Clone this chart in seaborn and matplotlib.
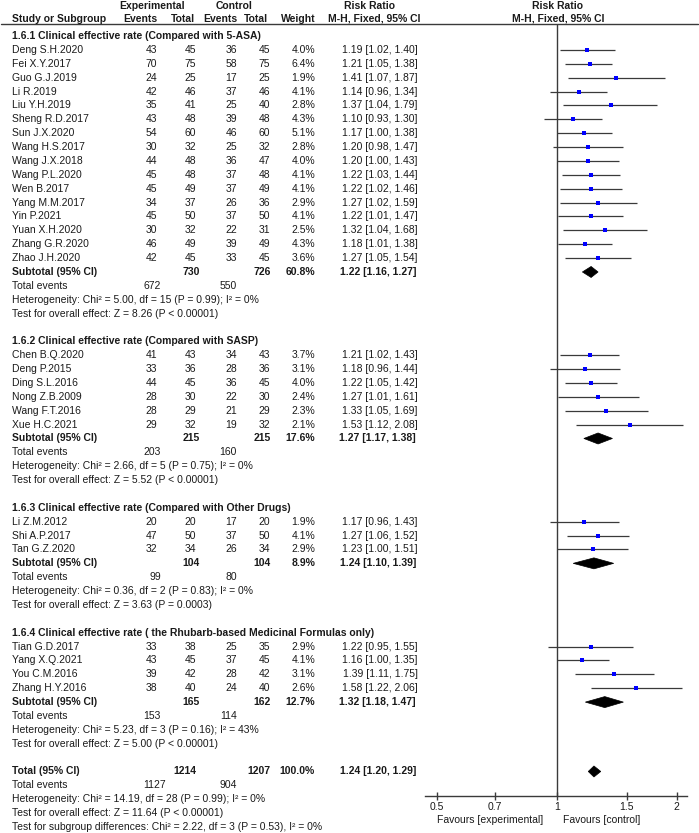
import numpy as np
import pandas as pd
import matplotlib
matplotlib.use("Agg")
import matplotlib.pyplot as plt
from matplotlib.lines import Line2D
from matplotlib.patches import Polygon
import seaborn as sns

# ---------------- data ----------------
group_titles = [
    "1.6.1 Clinical effective rate (Compared with 5-ASA)",
    "1.6.2 Clinical effective rate (Compared with SASP)",
    "1.6.3 Clinical effective rate (Compared with Other Drugs)",
    "1.6.4 Clinical effective rate ( the Rhubarb-based Medicinal Formulas only)",
]
group_sizes = [16, 6, 3, 4]

studies = [
    "Deng S.H.2020", "Fei X.Y.2017", "Guo G.J.2019", "Li R.2019", "Liu Y.H.2019",
    "Sheng R.D.2017", "Sun J.X.2020", "Wang H.S.2017", "Wang J.X.2018", "Wang P.L.2020",
    "Wen B.2017", "Yang M.M.2017", "Yin P.2021", "Yuan X.H.2020", "Zhang G.R.2020",
    "Zhao J.H.2020",
    "Chen B.Q.2020", "Deng P.2015", "Ding S.L.2016", "Nong Z.B.2009", "Wang F.T.2016",
    "Xue H.C.2021",
    "Li Z.M.2012", "Shi A.P.2017", "Tan G.Z.2020",
    "Tian G.D.2017", "Yang X.Q.2021", "You C.M.2016", "Zhang H.Y.2016",
]
exp_events = [43, 70, 24, 42, 35, 43, 54, 30, 44, 45, 45, 34, 45, 30, 46, 42,
              41, 33, 44, 28, 28, 29,
              20, 47, 32,
              33, 43, 39, 38]
exp_total = [45, 75, 25, 46, 41, 48, 60, 32, 48, 48, 49, 37, 50, 32, 49, 45,
             43, 36, 45, 30, 29, 32,
             20, 50, 34,
             38, 45, 42, 40]
ctrl_events = [36, 58, 17, 37, 25, 39, 46, 25, 36, 37, 37, 26, 37, 22, 39, 33,
               34, 28, 36, 22, 21, 19,
               17, 37, 26,
               25, 37, 28, 24]
ctrl_total = [45, 75, 25, 46, 40, 48, 60, 32, 47, 48, 49, 36, 50, 31, 49, 45,
              43, 36, 45, 30, 29, 32,
              20, 50, 34,
              35, 45, 42, 40]
weight_pct = [4.0, 6.4, 1.9, 4.1, 2.8, 4.3, 5.1, 2.8, 4.0, 4.1, 4.1, 2.9, 4.1, 2.5, 4.3, 3.6,
              3.7, 3.1, 4.0, 2.4, 2.3, 2.1,
              1.9, 4.1, 2.9,
              2.9, 4.1, 3.1, 2.6]
rr = [1.19, 1.21, 1.41, 1.14, 1.37, 1.10, 1.17, 1.20, 1.20, 1.22, 1.22, 1.27, 1.22, 1.32, 1.18, 1.27,
      1.21, 1.18, 1.22, 1.27, 1.33, 1.53,
      1.17, 1.27, 1.23,
      1.22, 1.16, 1.39, 1.58]
rr_low = [1.02, 1.05, 1.07, 0.96, 1.04, 0.93, 1.00, 0.98, 1.00, 1.03, 1.02, 1.02, 1.01, 1.04, 1.01, 1.05,
          1.02, 0.96, 1.05, 1.01, 1.05, 1.12,
          0.96, 1.06, 1.00,
          0.95, 1.00, 1.11, 1.22]
rr_high = [1.40, 1.38, 1.87, 1.34, 1.79, 1.30, 1.38, 1.47, 1.43, 1.44, 1.46, 1.59, 1.47, 1.68, 1.38, 1.54,
           1.43, 1.44, 1.42, 1.61, 1.69, 2.08,
           1.43, 1.52, 1.51,
           1.55, 1.35, 1.75, 2.06]

sub_exp_total = [730, 215, 104, 165]
sub_ctrl_total = [726, 215, 104, 162]
sub_weight = [60.8, 17.6, 8.9, 12.7]
sub_rr = [1.22, 1.27, 1.24, 1.32]
sub_low = [1.16, 1.17, 1.10, 1.18]
sub_high = [1.27, 1.38, 1.39, 1.47]
sub_exp_events = [672, 203, 99, 153]
sub_ctrl_events = [550, 160, 80, 114]
sub_het = [
    "Heterogeneity: Chi² = 5.00, df = 15 (P = 0.99); I² = 0%",
    "Heterogeneity: Chi² = 2.66, df = 5 (P = 0.75); I² = 0%",
    "Heterogeneity: Chi² = 0.36, df = 2 (P = 0.83); I² = 0%",
    "Heterogeneity: Chi² = 5.23, df = 3 (P = 0.16); I² = 43%",
]
sub_test = [
    "Test for overall effect: Z = 8.26 (P < 0.00001)",
    "Test for overall effect: Z = 5.52 (P < 0.00001)",
    "Test for overall effect: Z = 3.63 (P = 0.0003)",
    "Test for overall effect: Z = 5.00 (P < 0.00001)",
]

total_exp_total = 1214
total_ctrl_total = 1207
total_weight = 100.0
total_rr = 1.24
total_low = 1.20
total_high = 1.29
total_exp_events = 1127
total_ctrl_events = 904
total_het = "Heterogeneity: Chi² = 14.19, df = 28 (P = 0.99); I² = 0%"
total_test = "Test for overall effect: Z = 11.64 (P < 0.00001)"
subgroup_test = "Test for subgroup differences: Chi² = 2.22, df = 3 (P = 0.53), I² = 0%"

x_ticks = [0.5, 0.7, 1, 1.5, 2]
x_tick_labels = ["0.5", "0.7", "1", "1.5", "2"]
favour_left = "Favours [experimental]"
favour_right = "Favours [control]"

# ---------------- style ----------------
sns.set_theme(style="white")
plt.rcParams["font.family"] = ["Liberation Sans", "DejaVu Sans"]
FS = 7.5
TXT = "#1a1a1a"
LINE = "#3a3a3a"

W, H = 699, 833
Y0, STEP = 36.1, 13.875  # pixel y of row 0 and row spacing


def ypix(r):
    return Y0 + STEP * r


fig = plt.figure(figsize=(W / 100, H / 100), dpi=100)
fig.patch.set_facecolor("white")

# text layer in pixel coordinates
tax = fig.add_axes([0, 0, 1, 1])
tax.set_xlim(0, W)
tax.set_ylim(H, 0)
tax.axis("off")

# forest axes
AX_L, AX_R, AX_T, AX_B = 425, 687, 23.5, 796
ax = fig.add_axes([AX_L / W, (H - AX_B) / H, (AX_R - AX_L) / W, (AX_B - AX_T) / H])
ax.set_facecolor("none")
ax.set_xscale("log")
CEN, PXU = 556.7, 173.1
ax.set_xlim(np.exp((AX_L - CEN) / PXU), np.exp((AX_R - CEN) / PXU))
ax.set_ylim(AX_B, AX_T)


def t(x, y, s, ha="left", bold=False, va="center"):
    tax.text(x, y, s, ha=ha, va=va, fontsize=FS, color=TXT,
             fontweight="bold" if bold else "normal")


# headers
HB1, HB2 = 9.0, 21.5
t(152, HB1, "Experimental", ha="center", bold=True, va="baseline")
t(234, HB1, "Control", ha="center", bold=True, va="baseline")
t(370, HB1, "Risk Ratio", ha="center", bold=True, va="baseline")
t(557, HB1, "Risk Ratio", ha="center", bold=True, va="baseline")
t(12, HB2, "Study or Subgroup", bold=True, va="baseline")
t(157, HB2, "Events", ha="right", bold=True, va="baseline")
t(195, HB2, "Total", ha="right", bold=True, va="baseline")
t(237, HB2, "Events", ha="right", bold=True, va="baseline")
t(268, HB2, "Total", ha="right", bold=True, va="baseline")
t(316, HB2, "Weight", ha="right", bold=True, va="baseline")
t(420, HB2, "M-H, Fixed, 95% CI", ha="right", bold=True, va="baseline")
t(558, HB2, "M-H, Fixed, 95% CI", ha="center", bold=True, va="baseline")
tax.add_line(Line2D([1, 698], [23.8, 23.8], color=LINE, lw=1.0))

# layout rows
rows = []
sub_rows = []
r = 0
for g, n in enumerate(group_sizes):
    t(12, ypix(r), group_titles[g], bold=True)
    r += 1
    for i in range(n):
        rows.append(r)
        r += 1
    sub_rows.append(r)
    r += 5  # subtotal, events, het, test, blank
total_row = r

df = pd.DataFrame({
    "study": studies, "ee": exp_events, "et": exp_total, "ce": ctrl_events,
    "ct": ctrl_total, "w": weight_pct, "rr": rr, "lo": rr_low, "hi": rr_high,
    "row": rows,
})
df["y"] = ypix(df["row"])

for _, d in df.iterrows():
    y = d["y"]
    t(12, y, d["study"])
    t(157, y, f"{d['ee']}", ha="right")
    t(196, y, f"{d['et']}", ha="right")
    t(237, y, f"{d['ce']}", ha="right")
    t(270, y, f"{d['ct']}", ha="right")
    t(315, y, f"{d['w']:.1f}%", ha="right")
    t(418, y, f"{d['rr']:.2f} [{d['lo']:.2f}, {d['hi']:.2f}]", ha="right")

# CI lines and points
ax.hlines(df["y"], df["lo"], df["hi"], color=LINE, lw=0.9, zorder=2)
sns.scatterplot(data=df, x="rr", y="y", marker="s", color="#0000ff", s=5,
                linewidth=0, legend=False, ax=ax, zorder=3)


def diamond(y, est, lo, hi, h=5.5):
    ax.add_patch(Polygon([(lo, y), (est, y - h), (hi, y), (est, y + h)],
                         closed=True, facecolor="black", edgecolor="black",
                         lw=0.5, zorder=3))


for g, sr in enumerate(sub_rows):
    y = ypix(sr)
    t(12, y, "Subtotal (95% CI)", bold=True)
    t(200, y, f"{sub_exp_total[g]}", ha="right", bold=True)
    t(271, y, f"{sub_ctrl_total[g]}", ha="right", bold=True)
    t(315, y, f"{sub_weight[g]:.1f}%", ha="right", bold=True)
    t(416, y, f"{sub_rr[g]:.2f} [{sub_low[g]:.2f}, {sub_high[g]:.2f}]", ha="right", bold=True)
    diamond(y, sub_rr[g], sub_low[g], sub_high[g])
    t(12, ypix(sr + 1), "Total events")
    t(161, ypix(sr + 1), f"{sub_exp_events[g]}", ha="right")
    t(237, ypix(sr + 1), f"{sub_ctrl_events[g]}", ha="right")
    t(12, ypix(sr + 2), sub_het[g])
    t(12, ypix(sr + 3), sub_test[g])

y = ypix(total_row)
t(12, y, "Total (95% CI)", bold=True)
t(196, y, f"{total_exp_total}", ha="right", bold=True)
t(271, y, f"{total_ctrl_total}", ha="right", bold=True)
t(315, y, f"{total_weight:.1f}%", ha="right", bold=True)
t(416, y, f"{total_rr:.2f} [{total_low:.2f}, {total_high:.2f}]", ha="right", bold=True)
diamond(y, total_rr, total_low, total_high)
t(12, ypix(total_row + 1), "Total events")
t(166, ypix(total_row + 1), f"{total_exp_events}", ha="right")
t(237, ypix(total_row + 1), f"{total_ctrl_events}", ha="right")
t(12, ypix(total_row + 2), total_het)
t(12, ypix(total_row + 3), total_test)
t(12, ypix(total_row + 4), subgroup_test)

# axis styling
ax.axvline(1, color=LINE, lw=1.0, zorder=1)
for s in ["top", "left", "right"]:
    ax.spines[s].set_visible(False)
ax.spines["bottom"].set_color(LINE)
ax.spines["bottom"].set_linewidth(1.0)
ax.set_xticks(x_ticks)
ax.set_xticklabels(x_tick_labels)
ax.minorticks_off()
ax.tick_params(axis="x", which="major", direction="inout", length=6, width=1.0,
               color=LINE, labelsize=FS, labelcolor=TXT, pad=1.5, bottom=True)
ax.set_yticks([])
ax.set_xlabel("")
ax.set_ylabel("")
ax.grid(False)

ax.annotate(favour_left, xy=(1, 0), xycoords=("data", "axes fraction"),
            xytext=(-13, -24), textcoords="offset pixels", ha="right", va="center",
            fontsize=FS, color=TXT, annotation_clip=False)
ax.annotate(favour_right, xy=(1, 0), xycoords=("data", "axes fraction"),
            xytext=(6, -24), textcoords="offset pixels", ha="left", va="center",
            fontsize=FS, color=TXT, annotation_clip=False)

fig.savefig("out.png", dpi=100, facecolor="white")
